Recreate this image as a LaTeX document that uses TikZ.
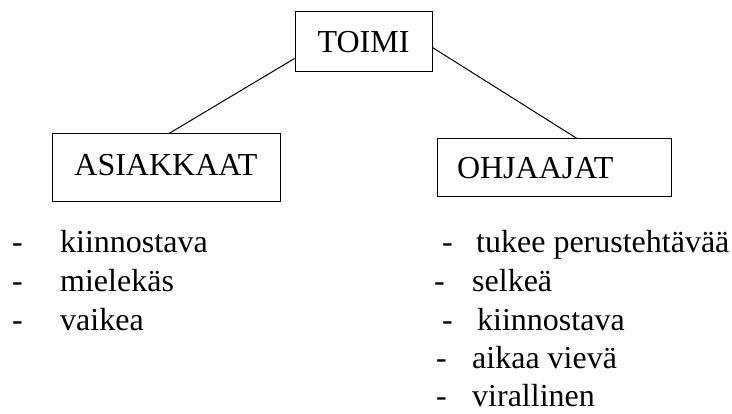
\documentclass[tikz,border=0pt]{standalone}
\usepackage{fontspec}
\setmainfont{Liberation Serif}
\begin{document}
\begin{tikzpicture}[x=1pt,y=-1pt,
  box/.style={draw=black,line width=1pt,inner sep=0pt,font=\fontsize{32}{38}\selectfont,text height=22pt},
  item/.style={inner sep=0pt,anchor=base west,font=\fontsize{32}{38}\selectfont},
  link/.style={draw=black,line width=1pt}]
\useasboundingbox (0,0) rectangle (732,414);
\node[box,minimum width=137pt,minimum height=60pt,text depth=0pt] (toimi) at (363.5,42) {TOIMI};
\node[box,minimum width=228pt,minimum height=68pt,text depth=6pt] (asiak) at (166,168) {ASIAKKAAT};
\node[box,minimum width=234pt,minimum height=58pt,text depth=0pt,text width=194pt,inner xsep=20pt,align=left] (ohj) at (554,168) {OHJAAJAT};
\draw[link] ([yshift=14pt]toimi.south west) -- ([xshift=3pt]asiak.north);
\draw[link] ([yshift=25pt]toimi.south east) -- ([xshift=23pt]ohj.north);
% left list
\node[item] (ld1) at (12,253) {-};
\node[item] (lt1) at (60,253) {kiinnostava};
\node[item] (ld2) at (12,292) {-};
\node[item] (lt2) at (60,292) {mielekäs};
\node[item] (ld3) at (12,331) {-};
\node[item] (lt3) at (60,331) {vaikea};
% right list
\node[item] (rd1) at (442,253) {-};
\node[item] (rt1) at (476,253) {tukee perustehtävää};
\node[item] (rd2) at (434,292) {-};
\node[item] (rt2) at (472,292) {selkeä};
\node[item] (rd3) at (442,331) {-};
\node[item] (rt3) at (477,331) {kiinnostava};
\node[item] (rd4) at (436,369) {-};
\node[item] (rt4) at (472,369) {aikaa vievä};
\node[item] (rd5) at (436,407) {-};
\node[item] (rt5) at (472,407) {virallinen};
\end{tikzpicture}
\end{document}
